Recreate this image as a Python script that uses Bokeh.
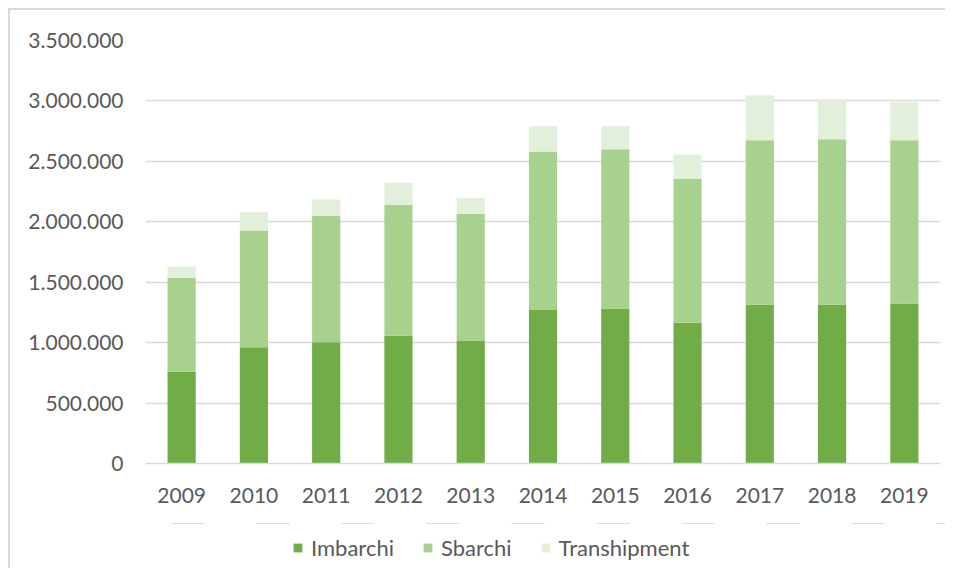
from bokeh.plotting import figure
from bokeh.layouts import column
from bokeh.models import CustomJSTickFormatter, FixedTicker, Range1d, Legend
from bokeh.embed import file_html
from bokeh.resources import INLINE

years = ["2009", "2010", "2011", "2012", "2013", "2014", "2015", "2016", "2017", "2018", "2019"]
imbarchi = [760000, 961000, 1003000, 1058000, 1017000, 1271000, 1282000, 1164000, 1313000, 1313000, 1324000]
sbarchi = [777000, 967000, 1044000, 1083000, 1050000, 1310000, 1318000, 1190000, 1362000, 1370000, 1351000]
transhipment = [94000, 150000, 138000, 183000, 129000, 210000, 191000, 202000, 372000, 331000, 315000]
series = ["Imbarchi", "Sbarchi", "Transhipment"]
colors = ["#70AD47", "#A9D18E", "#E2EFDA"]
y_ticks = [0, 500000, 1000000, 1500000, 2000000, 2500000, 3000000, 3500000]

FONT = "Lato"
TXT = "#595959"

data = {"years": years, "Imbarchi": imbarchi, "Sbarchi": sbarchi, "Transhipment": transhipment}

p = figure(x_range=years, y_range=Range1d(0, 3500000), frame_width=795, frame_height=423,
           output_backend="svg", toolbar_location=None,
           min_border_left=135, min_border_right=5, min_border_top=30, min_border_bottom=60)

p.vbar_stack(series, x="years", width=0.39, color=colors, source=data, line_color=None)

p.outline_line_color = None
p.xgrid.grid_line_color = None
p.ygrid.grid_line_color = "#d9d9d9"
p.ygrid.grid_line_width = 1.5
p.yaxis.ticker = FixedTicker(ticks=y_ticks)
p.yaxis.formatter = CustomJSTickFormatter(code="return tick.toFixed(0).replace(/\\B(?=(\\d{3})+(?!\\d))/g, '.');")

for ax in (p.xaxis[0], p.yaxis[0]):
    ax.major_label_text_font = FONT
    ax.major_label_text_font_size = "21px"
    ax.major_label_text_color = TXT
    ax.major_tick_line_color = None
    ax.minor_tick_line_color = None
p.yaxis.axis_line_color = None
p.yaxis.major_label_standoff = 16
p.xaxis.axis_line_color = "#d9d9d9"
p.xaxis.axis_line_width = 1.5
p.xaxis.major_label_standoff = 18

# legend strip: same stacked series, drawn far out of view, used only for the legend swatches
q = figure(x_range=years, y_range=Range1d(-20000000, -10000000), frame_width=935, frame_height=45,
           output_backend="svg", toolbar_location=None,
           x_axis_type=None, y_axis_type=None,
           min_border_left=0, min_border_right=0, min_border_top=0, min_border_bottom=0)
q.outline_line_color = None
q.grid.visible = False
legend_renderers = q.vbar_stack(series, x="years", width=0.39, color=colors, source=data,
                                line_color=None)

legend = Legend(items=[(s, [r]) for s, r in zip(series, legend_renderers)],
                orientation="horizontal", location=(282, 7))
legend.label_text_font = FONT
legend.label_text_font_size = "22px"
legend.label_text_color = TXT
legend.glyph_width = 11
legend.glyph_height = 11
legend.label_standoff = 8
legend.spacing = 28
legend.padding = 0
legend.margin = 0
legend.border_line_color = None
legend.background_fill_alpha = 0
q.add_layout(legend, "center")

layout = column(p, q, spacing=0)
layout.styles = {"border-top": "2px solid #d9d9d9", "border-left": "2px solid #d9d9d9",
                 "margin-left": "8px", "margin-top": "8px"}

open("out.html", "w").write(file_html(layout, INLINE))
